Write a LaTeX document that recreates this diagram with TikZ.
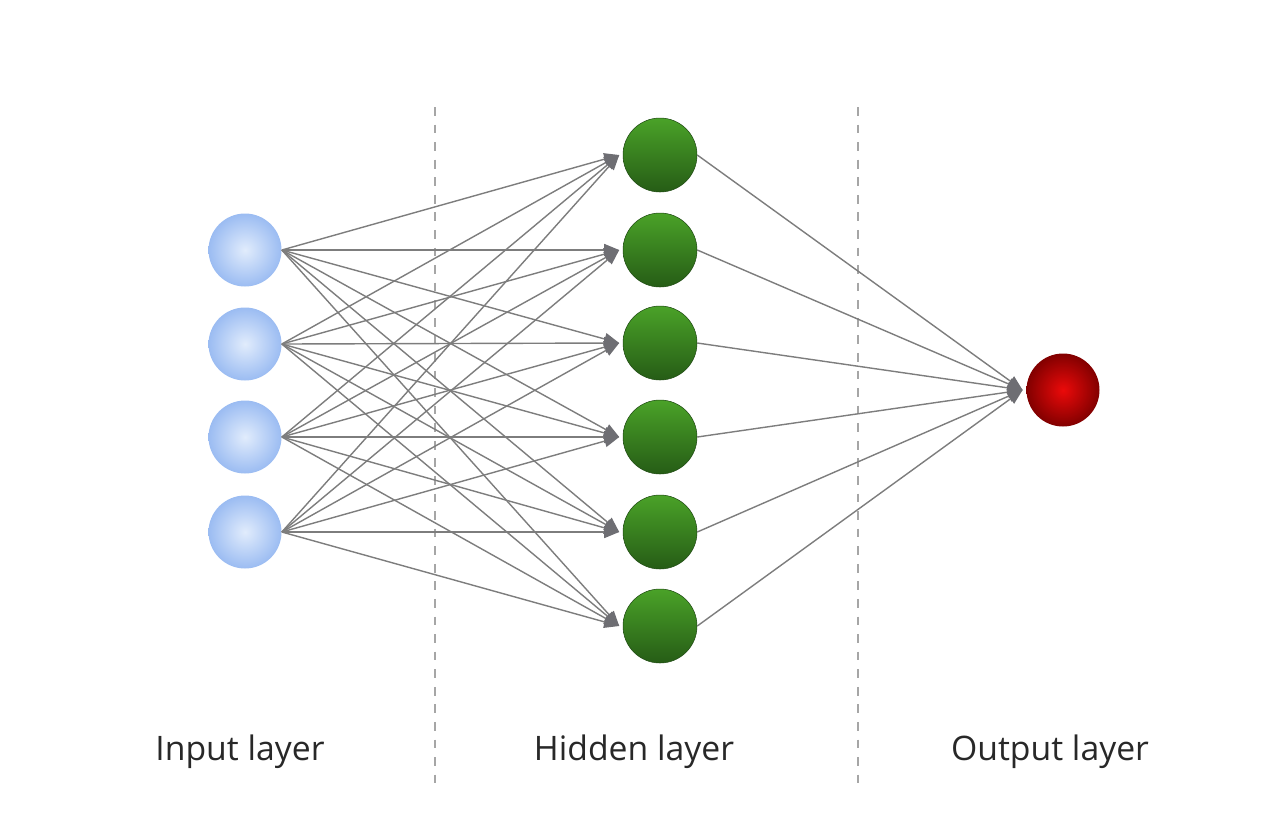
\documentclass[tikz,border=0pt]{standalone}
\usepackage{fontspec}
\setmainfont{Open Sans}
\usepackage{tikz}
\usetikzlibrary{shapes, arrows.meta, positioning}

\definecolor{inblue}{RGB}{155,188,242}
\definecolor{inlight}{RGB}{225,236,252}
\definecolor{hidtop}{RGB}{74,162,40}
\definecolor{hidbot}{RGB}{38,92,22}
\definecolor{outin}{RGB}{235,10,10}
\definecolor{outrim}{RGB}{130,0,0}
\definecolor{edgegray}{RGB}{125,125,125}
\definecolor{headgray}{RGB}{110,110,115}
\definecolor{textgray}{RGB}{40,40,40}

\begin{document}
\begin{tikzpicture}
  [
    x=0.02cm, y=-0.02cm,
    Blue/.style={circle, inner color=inlight, outer color=inblue, minimum size=1.46cm},
    Green/.style={circle, top color=hidtop, bottom color=hidbot, draw=hidbot!80!black, line width=0.3pt, minimum size=1.48cm},
    Red/.style={circle, inner color=outin, outer color=outrim, minimum size=1.46cm},
    Edge/.style={draw=edgegray, line width=0.8pt, -{Triangle[length=0.3cm, width=0.24cm, color=headgray]}},
    Divider/.style={draw=gray!70, line width=0.9pt, dash pattern=on 5pt off 5pt},
    Layer/.style={anchor=base, text=textgray, font=\fontsize{19.2}{21}\selectfont}
  ]
  \useasboundingbox (0,0) rectangle (1278,823);
  % Dividers
  \coordinate (d0t) at (435,107);
  \coordinate (d0b) at (435,785);
  \coordinate (d1t) at (858,107);
  \coordinate (d1b) at (858,785);
  \path [Divider] (d0t) -- (d0b);
  \path [Divider] (d1t) -- (d1b);
  % Nodes
  \node[Blue] (in0) at (245,250) {};
  \node[Blue] (in1) at (245,344) {};
  \node[Blue] (in2) at (245,437) {};
  \node[Blue] (in3) at (245,532) {};
  \node[Green] (h0) at (660,155) {};
  \node[Green] (h1) at (660,250) {};
  \node[Green] (h2) at (660,343) {};
  \node[Green] (h3) at (660,437) {};
  \node[Green] (h4) at (660,532) {};
  \node[Green] (h5) at (660,626) {};
  \node[Red] (out) at (1063,390) {};
  % Lines
  \foreach \i in {0,...,3}
    \foreach \j in {0,...,5}
      \path [Edge] (in\i.east) -- ([xshift=-2]h\j.west);
  \foreach \j in {0,...,5}
    \path [Edge] (h\j.east) -- ([xshift=-2]out.west);
  % Labels
  \node[Layer] (linput) at (240,760) {Input layer};
  \node[Layer] (lhidden) at (634,760) {Hidden layer};
  \node[Layer] (loutput) at (1050,760) {Output layer};
\end{tikzpicture}
\end{document}
